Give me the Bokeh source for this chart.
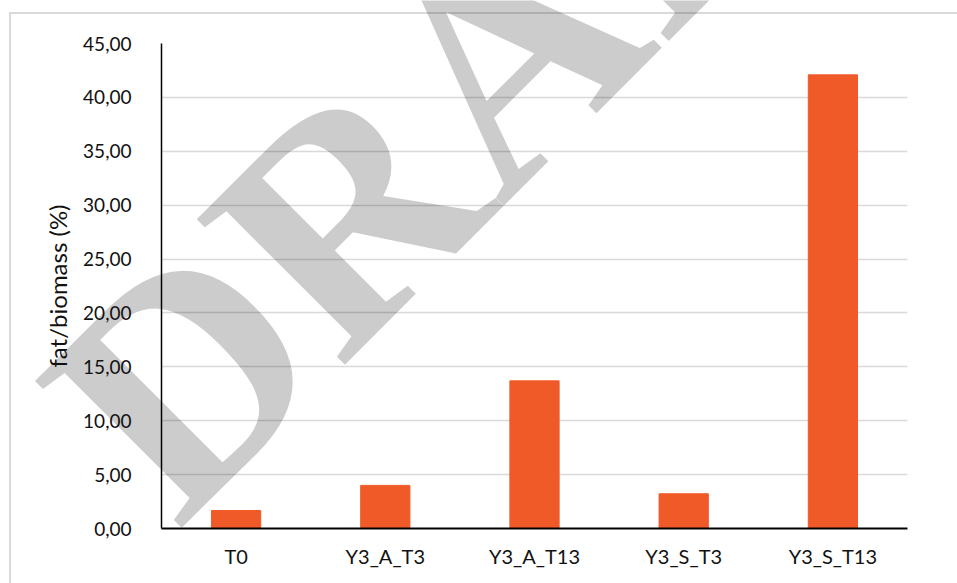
import math
from bokeh.plotting import figure
from bokeh.models import FactorRange, Range1d, FixedTicker, Label, ColumnDataSource
from bokeh.embed import file_html
from bokeh.resources import INLINE

categories = ["T0", "Y3_A_T3", "Y3_A_T13", "Y3_S_T3", "Y3_S_T13"]
fat_biomass = [1.67, 4.00, 13.70, 3.22, 42.09]
y_ticks = [0, 5, 10, 15, 20, 25, 30, 35, 40, 45]
y_tick_labels = ["0,00", "5,00", "10,00", "15,00", "20,00", "25,00", "30,00", "35,00", "40,00", "45,00"]
y_axis_title = "fat/biomass (%)"
watermark_text = "DRAFT"

FONT = "Lato"
W, H = 957, 583

# ---- background page with the DRAFT watermark (full-canvas frame, no clipping) ----
wf = figure(width=W, height=H, output_backend="svg", toolbar_location=None,
            x_axis_type=None, y_axis_type=None,
            x_range=Range1d(0, W), y_range=Range1d(H, 0),
            min_border=0)
wf.outline_line_color = None
wf.background_fill_color = "white"
wf.border_fill_color = "white"
wm = Label(x=102, y=456, x_units="canvas", y_units="canvas",
           text=watermark_text, angle=math.radians(45),
           text_font="Liberation Serif", text_font_style="bold",
           text_font_size="317px", text_color="#cccccc",
           text_align="left", text_baseline="alphabetic")
wf.add_layout(wm)

# ---- chart, transparent, laid over the page ----
p = figure(
    x_range=FactorRange(factors=categories),
    y_range=Range1d(0, 45),
    width=W, height=H,
    output_backend="svg", toolbar_location=None,
    min_border_left=161, min_border_right=50,
    min_border_top=43, min_border_bottom=55,
)
p.border_fill_alpha = 0
p.background_fill_alpha = 0
p.outline_line_color = None
p.styles = {
    "position": "absolute", "top": "0px", "left": "0px",
    "background-image": "linear-gradient(rgba(0,0,0,0.15),rgba(0,0,0,0.15)), linear-gradient(rgba(0,0,0,0.15),rgba(0,0,0,0.15))",
    "background-size": "2px 700px, 1200px 2px",
    "background-position": "9px 12px, 11px 12px",
    "background-repeat": "no-repeat",
}

src = ColumnDataSource(dict(cat=categories, val=fat_biomass))
p.vbar(x="cat", top="val", width=0.33, source=src,
       fill_color="#F05A28", line_color="#F05A28")

p.ygrid.ticker = FixedTicker(ticks=y_ticks)
p.ygrid.grid_line_color = "black"
p.ygrid.grid_line_alpha = 0.15
p.ygrid.grid_line_width = 1.3
p.xgrid.grid_line_color = None

ya = p.yaxis[0]
ya.ticker = FixedTicker(ticks=y_ticks)
ya.major_label_overrides = {t: s for t, s in zip(y_ticks, y_tick_labels)}
ya.axis_line_color = "black"
ya.axis_line_width = 1.5
ya.major_tick_line_color = None
ya.minor_tick_line_color = None
ya.major_label_text_font = FONT
ya.major_label_text_font_size = "19px"
ya.major_label_text_color = "#111111"
ya.major_label_standoff = 24
ya.axis_label = y_axis_title
ya.axis_label_text_font = FONT
ya.axis_label_text_font_size = "24px"
ya.axis_label_text_font_style = "normal"
ya.axis_label_text_color = "#111111"
ya.axis_label_standoff = 8

xa = p.xaxis[0]
xa.axis_line_color = "black"
xa.axis_line_width = 2
xa.major_tick_line_color = None
xa.minor_tick_line_color = None
xa.major_label_text_font = FONT
xa.major_label_text_font_size = "20px"
xa.major_label_text_color = "#111111"
xa.major_label_standoff = 9

open("out.html", "w").write(file_html([wf, p], INLINE))
